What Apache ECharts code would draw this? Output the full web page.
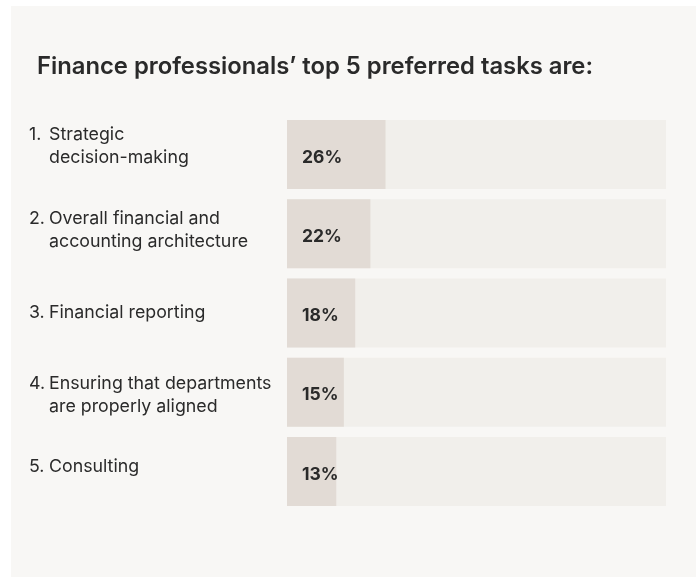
<!DOCTYPE html>
<html>
<head>
<meta charset="utf-8">
<script src="https://cdn.jsdelivr.net/npm/echarts@6/dist/echarts.min.js"></script>
<style>
  html, body { margin: 0; padding: 0; background: #ffffff; }
  #chart { width: 696px; height: 578px; }
</style>
</head>
<body>
<div id="chart"></div>
<script>
// Task ranking: number, label lines, share of respondents (%)
const taskNumbers = ['1.', '2.', '3.', '4.', '5.'];
const taskLines = [
  ['Strategic', 'decision-making'],
  ['Overall financial and', 'accounting architecture'],
  ['Financial reporting'],
  ['Ensuring that departments', 'are properly aligned'],
  ['Consulting']
];
const shares = [26, 22, 18, 15, 13];
const scaleMax = 100;

// Layout: vertical nudge (px, negative = up) of each row's text block
const labelNudge = [-8, -4, 0, 3, -5];

const FONT = 'Inter, "Noto Sans", sans-serif';
const INK = '#2a2a2a';

const categories = taskLines.map((lines, i) => taskNumbers[i] + ' ' + lines.join(' '));

// Full-width track behind each bar; it also carries the row's task text
const trackData = shares.map((_, i) => ({
  value: scaleMax,
  label: { offset: [0, labelNudge[i]] }
}));

const chart = echarts.init(document.getElementById('chart'), null, { renderer: 'canvas' });

chart.setOption({
  backgroundColor: 'transparent',
  animation: false,
  graphic: [{
    type: 'rect',
    z: -10,
    shape: { x: 11, y: 6, width: 685, height: 571 },
    style: { fill: '#f8f7f5' }
  }],
  title: {
    text: 'Finance professionals\u2019 top 5 preferred tasks are:',
    left: 37,
    top: 55,
    padding: 0,
    textStyle: {
      fontFamily: FONT,
      fontSize: 23.8,
      fontWeight: 600,
      color: INK
    }
  },
  grid: { left: 287, right: 30, top: 115, bottom: 67, containLabel: false },
  xAxis: {
    type: 'value',
    min: 0,
    max: scaleMax,
    show: false
  },
  yAxis: {
    type: 'category',
    inverse: true,
    data: categories,
    axisLine: { show: false },
    axisTick: { show: false },
    splitLine: { show: false },
    axisLabel: { show: false }
  },
  series: [
    {
      name: 'track',
      type: 'bar',
      barWidth: 69,
      barGap: '-100%',
      silent: true,
      z: 1,
      itemStyle: { color: '#f1efeb' },
      label: {
        show: true,
        position: [-258, '50%'],
        align: 'left',
        verticalAlign: 'middle',
        formatter: function (p) {
          const i = p.dataIndex;
          const lines = taskLines[i];
          let s = '{n|' + taskNumbers[i] + '}{t|' + lines[0] + '}';
          for (let k = 1; k < lines.length; k++) {
            s += '\n{i|' + lines[k] + '}';
          }
          return s;
        },
        rich: {
          n: { fontFamily: FONT, fontSize: 17.8, color: INK, width: 20, lineHeight: 23 },
          t: { fontFamily: FONT, fontSize: 17.8, color: INK, lineHeight: 23 },
          i: { fontFamily: FONT, fontSize: 17.8, color: INK, lineHeight: 23, padding: [0, 0, 0, 20] }
        }
      },
      data: trackData
    },
    {
      name: 'share',
      type: 'bar',
      barWidth: 69,
      z: 2,
      itemStyle: { color: '#e2dbd5' },
      label: {
        show: true,
        position: 'insideLeft',
        distance: 15,
        offset: [0, 3],
        formatter: '{c}%',
        fontFamily: FONT,
        fontSize: 17.5,
        fontWeight: 700,
        color: INK
      },
      data: shares
    }
  ]
});
</script>
</body>
</html>
